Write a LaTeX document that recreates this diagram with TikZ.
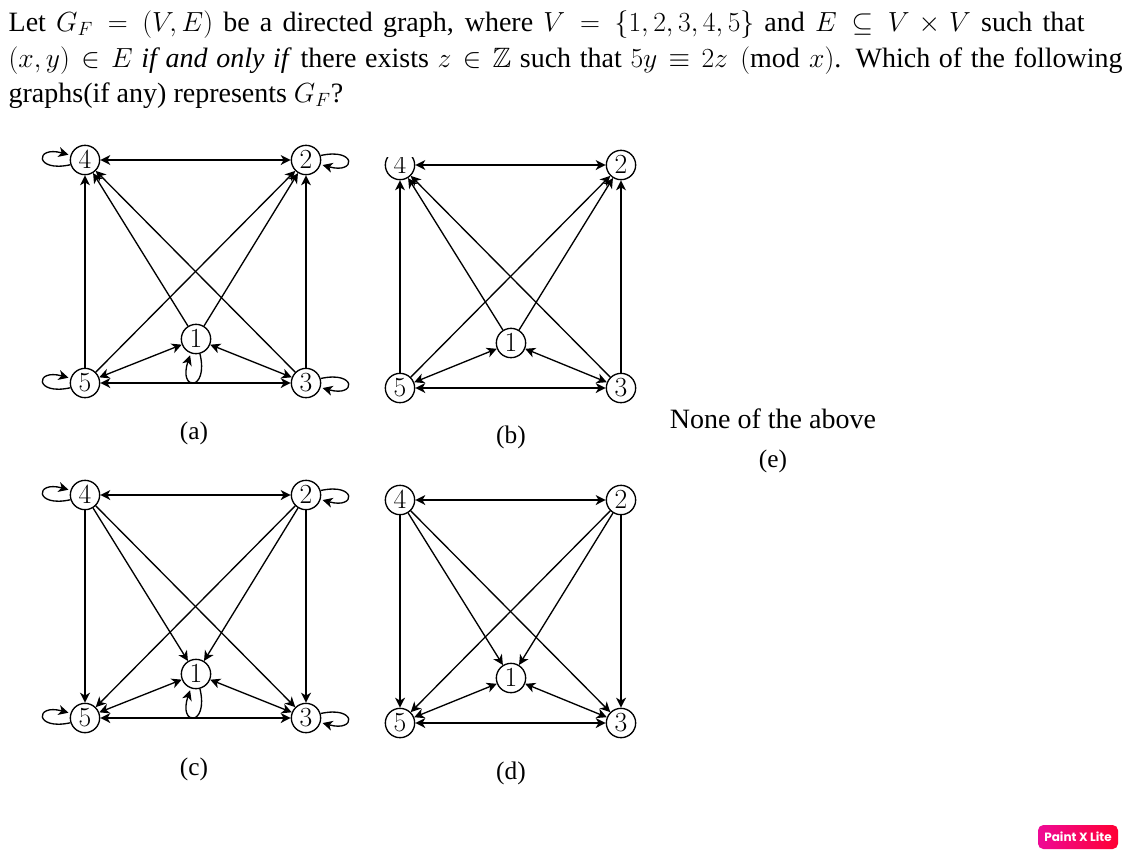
\documentclass[tikz,border=0pt]{standalone}
\usepackage{amsmath}
\usepackage{amssymb}
\usepackage{fontspec}
\setmainfont{Liberation Serif}
\newfontfamily\badgefont{Poppins}
\usetikzlibrary{positioning, arrows.meta}
\definecolor{badgeleft}{HTML}{EE0A96}
\definecolor{badgeright}{HTML}{FF0033}
\tikzset{
>={Stealth[inset=2.2pt, length=7.5pt, width=7.5pt]}, % same tip on every edge
node distance=165.75pt, % centre to centre, width of each graph
qline/.style={anchor=base west, inner sep=0pt, font=\fontsize{21}{25}\selectfont},
caption/.style={anchor=base, inner sep=0pt, font=\fontsize{19}{23}\selectfont},
loopedge/.style={->, shorten >=1.5pt},
}

\begin{document}
\begin{tikzpicture}[x=0.75pt, y=-0.75pt, line width=1pt, main/.style = {draw, circle, inner sep=0pt, minimum size=22pt, font=\fontsize{21.5}{22}\selectfont, fill=white}]
    \useasboundingbox (0,0) rectangle (1128,858);

    % the question
    \node[qline] (q1) at (8,31) {\makebox[807pt][s]{Let $G_F = (V, E)$ be a directed graph, where $V = \{1, 2, 3, 4, 5\}$ and $E \subseteq V \times V$ such that}};
    \node[qline] (q2) at (8,67) {\makebox[835.5pt][s]{$(x, y) \in E$ \textit{if and only if} there exists $z \in \mathbb{Z}$ such that $5y \equiv 2z \pmod{x}$. Which of the following}};
    \node[qline] (q3) at (8,102) {graphs(if any) represents $G_F$?};

    % graph a, all edges into 4 and 2, with loops
    \node[main] (a4) at (85,160) {$4$};
    \node[main] (a2) [right of=a4] {$2$};
    \node[main] (a5) [below of=a4, node distance=167.25pt] {$5$};
    \node[main] (a3) [right of=a5] {$3$};
    \node[main] (a1) at (196,339) {$1$};
    \node[caption] (acap) at (194,439) {(a)};

    \draw [<->] (a4) -- (a2);
    \draw [->] (a5) -- (a4);
    \draw [->] (a1) -- (a4);
    \draw [->] (a3) -- (a4);
    \draw [->] (a5) -- (a2);
    \draw [->] (a1) -- (a2);
    \draw [->] (a3) -- (a2);
    \draw [<->] (a5) -- (a1);
    \draw [<->] (a1) -- (a3);
    \draw [<->] (a5) -- (a3);
    \draw [loopedge] (a4.198) .. controls +(-36,8) and +(-36,-10) .. (a4.162);
    \draw [loopedge] (a2.17) .. controls +(36,-8) and +(36,10) .. (a2.-17);
    \draw [loopedge] (a5.198) .. controls +(-36,8) and +(-36,-10) .. (a5.162);
    \draw [loopedge] (a3.17) .. controls +(36,-8) and +(36,10) .. (a3.-17);
    \draw [loopedge] (a1.-75) .. controls +(9,38) and +(-13,38) .. (a1.-110);

    % graph b, same edges and no loops
    \node[main] (b4) at (400,165) {$4$};
    \node[main] (b2) [right of=b4] {$2$};
    \node[main] (b5) [below of=b4, node distance=167.25pt] {$5$};
    \node[main] (b3) [right of=b5] {$3$};
    \node[main] (b1) at (511,343) {$1$};
    \node[caption] (bcap) at (511,443) {(b)};

    \draw [<->] (b4) -- (b2);
    \draw [->] (b5) -- (b4);
    \draw [->] (b1) -- (b4);
    \draw [->] (b3) -- (b4);
    \draw [->] (b5) -- (b2);
    \draw [->] (b1) -- (b2);
    \draw [->] (b3) -- (b2);
    \draw [<->] (b5) -- (b1);
    \draw [<->] (b1) -- (b3);
    \draw [<->] (b5) -- (b3);
    % top of node 4 is cut off here
    \fill [white] (380,146) rectangle (420,157);

    % graph c, edges reversed, with loops
    \node[main] (c4) at (85,495) {$4$};
    \node[main] (c2) [right of=c4] {$2$};
    \node[main] (c5) [below of=c4, node distance=167.25pt] {$5$};
    \node[main] (c3) [right of=c5] {$3$};
    \node[main] (c1) at (196,674) {$1$};
    \node[caption] (ccap) at (194,775) {(c)};

    \draw [<->] (c4) -- (c2);
    \draw [->] (c4) -- (c5);
    \draw [->] (c4) -- (c1);
    \draw [->] (c4) -- (c3);
    \draw [->] (c2) -- (c5);
    \draw [->] (c2) -- (c1);
    \draw [->] (c2) -- (c3);
    \draw [<->] (c5) -- (c1);
    \draw [<->] (c1) -- (c3);
    \draw [<->] (c5) -- (c3);
    \draw [loopedge] (c4.198) .. controls +(-36,8) and +(-36,-10) .. (c4.162);
    \draw [loopedge] (c2.17) .. controls +(36,-8) and +(36,10) .. (c2.-17);
    \draw [loopedge] (c5.198) .. controls +(-36,8) and +(-36,-10) .. (c5.162);
    \draw [loopedge] (c3.17) .. controls +(36,-8) and +(36,10) .. (c3.-17);
    \draw [loopedge] (c1.-75) .. controls +(9,38) and +(-13,38) .. (c1.-110);

    % graph d, edges reversed and no loops
    \node[main] (d4) at (400,500) {$4$};
    \node[main] (d2) [right of=d4] {$2$};
    \node[main] (d5) [below of=d4, node distance=167.25pt] {$5$};
    \node[main] (d3) [right of=d5] {$3$};
    \node[main] (d1) at (511,678) {$1$};
    \node[caption] (dcap) at (511,779) {(d)};

    \draw [<->] (d4) -- (d2);
    \draw [->] (d4) -- (d5);
    \draw [->] (d4) -- (d1);
    \draw [->] (d4) -- (d3);
    \draw [->] (d2) -- (d5);
    \draw [->] (d2) -- (d1);
    \draw [->] (d2) -- (d3);
    \draw [<->] (d5) -- (d1);
    \draw [<->] (d1) -- (d3);
    \draw [<->] (d5) -- (d3);

    % choice e has no graph
    \node[qline, anchor=base] (enone) at (773,428) {None of the above};
    \node[caption] (ecap) at (773,467) {(e)};

    % editor's mark in the corner
    \node[rounded corners=4pt, left color=badgeleft, right color=badgeright, text=white, minimum width=60pt, minimum height=18pt, inner sep=0pt, font=\badgefont\bfseries\fontsize{9}{9}\selectfont] (badge) at (1078,837) {Paint X Lite};
\end{tikzpicture}
\end{document}
